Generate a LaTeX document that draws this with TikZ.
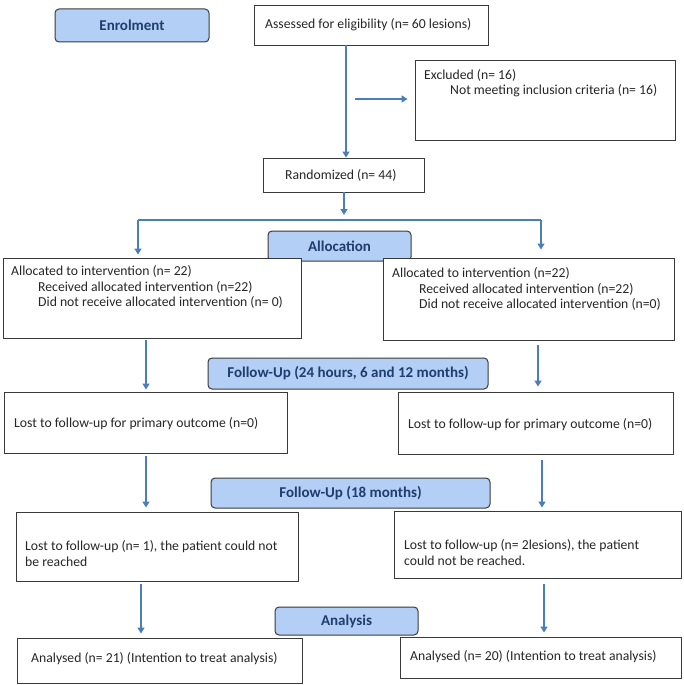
\documentclass[tikz,border=0pt]{standalone}
\usepackage{fontspec}
\setmainfont{Carlito}
\usetikzlibrary{arrows.meta,calc}
\definecolor{arrc}{HTML}{4A7EBB}
\definecolor{hdrfill}{HTML}{B3CFF5}
\definecolor{hdrtext}{HTML}{1F3D6E}
\definecolor{bdr}{HTML}{3A3A3A}
\tikzset{
  box/.style={draw=bdr, line width=0.9pt, fill=white, inner sep=0pt},
  hdr/.style={draw=bdr, line width=1pt, fill=hdrfill, rounded corners=4pt, inner sep=0pt,
              font=\fontsize{15}{17}\selectfont\bfseries, text=hdrtext},
  txt/.style={anchor=west, inner sep=0pt, font=\fontsize{13.7}{16}\selectfont, text=black!85, align=left},
  arr/.style={draw=arrc, line width=1.8pt, -{Triangle[length=6pt,width=7pt]}},
  ln/.style={draw=arrc, line width=1.8pt}
}
\newcommand\bx[6]{\node[#6, minimum width={(#4-#2)*1pt}, minimum height={(#5-#3)*1pt}] (#1) at ({(#2+#4)/2},{(#3+#5)/2})}
\begin{document}
\begin{tikzpicture}[x=1pt,y=-1pt]
\useasboundingbox (0,0) rectangle (684,685);
% headers
\bx{enr}{55}{9}{209}{42}{hdr} {Enrolment};
\bx{alloc}{268}{231}{411}{261}{hdr} {Allocation};
\bx{fu1}{208}{358}{488}{389}{hdr} {Follow-Up (24 hours, 6 and 12 months)};
\bx{fu2}{211}{478}{490}{508}{hdr} {Follow-Up (18 months)};
\bx{ana}{275}{607}{418}{635}{hdr} {Analysis};
% boxes
\bx{ass}{254}{5}{488}{45}{box} {};
\node[txt] (tass) at (265,25) {Assessed for eligibility (n= 60 lesions)};
\bx{exc}{415}{60}{675}{140}{box} {};
\node[txt] (texc1) at (424,75) {Excluded (n= 16)};
\node[txt] (texc2) at (450,91) {Not meeting inclusion criteria (n= 16)};
\bx{rand}{263}{158}{424}{192}{box} {};
\node[txt] (trand) at (285,175) {Randomized (n= 44)};
\bx{alL}{3}{258}{301}{338}{box} {};
\node[txt] (talL1) at (11,271) {Allocated to intervention (n= 22)};
\node[txt] (talL2) at (38,287) {Received allocated intervention (n=22)};
\node[txt] (talL3) at (38,302) {Did not receive allocated intervention (n= 0)};
\bx{alR}{383}{258}{674}{340}{box} {};
\node[txt] (talR1) at (392,273) {Allocated to intervention (n=22)};
\node[txt] (talR2) at (419,289) {Received allocated intervention (n=22)};
\node[txt] (talR3) at (419,304) {Did not receive allocated intervention (n=0)};
\bx{loL}{4}{392}{287}{453}{box} {};
\node[txt] (tloL) at (14,424) {Lost to follow-up for primary outcome (n=0)};
\bx{loR}{398}{392}{673}{454}{box} {};
\node[txt] (tloR) at (408,425) {Lost to follow-up for primary outcome (n=0)};
\bx{l18L}{16}{512}{298}{581}{box} {};
\node[txt] (tl18L) at (25,554) {Lost to follow-up (n= 1), the patient could not\\be reached};
\bx{l18R}{394}{511}{681}{578}{box} {};
\node[txt] (tl18R) at (404,553) {Lost to follow-up (n= 2lesions), the patient\\could not be reached.};
\bx{anL}{17}{638}{302}{683}{box} {};
\node[txt] (tanL) at (31,659) {Analysed (n= 21) (Intention to treat analysis)};
\bx{anR}{400}{637}{681}{678}{box} {};
\node[txt] (tanR) at (410,657) {Analysed (n= 20) (Intention to treat analysis)};
% columns
\coordinate (cM) at (346,0);
\coordinate (cR0) at (344,0);
\coordinate (cL1) at (146,0);
\coordinate (cL2) at (141,0);
\coordinate (cR1) at (538,0);
\coordinate (cR2) at (542,0);
\coordinate (cR3) at (544,0);
\coordinate (ex0) at (355,99);
\coordinate (sl) at (138,220);
\coordinate (sr) at (541,220);
% connectors
\draw[arr] (ass.south -| cM) -- (rand.north -| cM);
\draw[arr, shorten >=7pt] (ex0) -- (ex0 -| exc.west);
\draw[arr, shorten >=5pt] (rand.south -| cR0) -- (sl -| cR0);
\draw[ln] (sl) -- (sr);
\draw[arr, shorten >=3pt] (sl) -- (sl |- alL.north);
\draw[arr, shorten >=8pt] (sr) -- (sr |- alR.north);
\draw[arr, shorten <=2pt, shorten >=2pt] (alL.south -| cL1) -- (loL.north -| cL1);
\draw[arr, shorten <=5pt, shorten >=5pt] (alR.south -| cR1) -- (loR.north -| cR1);
\draw[arr, shorten <=3pt, shorten >=4pt] (loL.south -| cL1) -- (l18L.north -| cL1);
\draw[arr, shorten <=6pt, shorten >=3pt] (loR.south -| cR2) -- (l18R.north -| cR2);
\draw[arr, shorten <=3pt, shorten >=4pt] (l18L.south -| cL2) -- (anL.north -| cL2);
\draw[arr, shorten <=6pt, shorten >=4pt] (l18R.south -| cR3) -- (anR.north -| cR3);
\end{tikzpicture}
\end{document}
